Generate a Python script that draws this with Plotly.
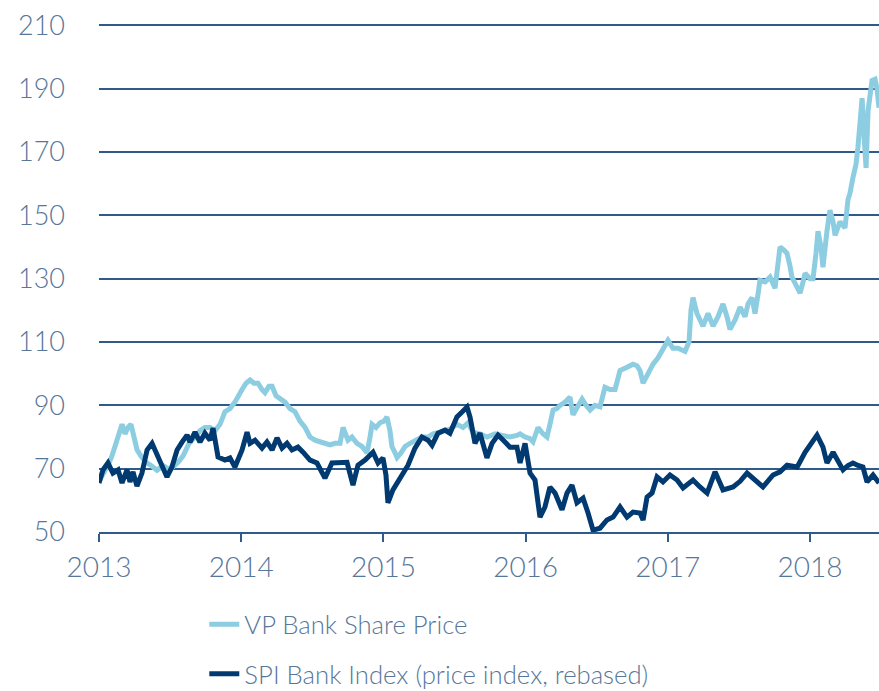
import plotly.graph_objects as go

# VP Bank share price (decimal year, value)
vp_t = [2013.000, 2013.028, 2013.063, 2013.091, 2013.113, 2013.141, 2013.162, 2013.183, 2013.204, 2013.225,
        2013.246, 2013.267, 2013.295, 2013.331, 2013.366, 2013.408, 2013.450, 2013.485, 2013.520, 2013.556,
        2013.591, 2013.633, 2013.675, 2013.710, 2013.745, 2013.781, 2013.816, 2013.851, 2013.886, 2013.921,
        2013.956, 2013.977, 2014.006, 2014.034, 2014.062, 2014.090, 2014.118, 2014.146, 2014.167, 2014.195,
        2014.217, 2014.245, 2014.273, 2014.308, 2014.343, 2014.378, 2014.413, 2014.449, 2014.484, 2014.519,
        2014.554, 2014.589, 2014.624, 2014.660, 2014.695, 2014.716, 2014.737, 2014.751, 2014.779, 2014.814,
        2014.849, 2014.885, 2014.906, 2014.920, 2014.948, 2014.976, 2015.004, 2015.025, 2015.046, 2015.060,
        2015.082, 2015.096, 2015.124, 2015.152, 2015.187, 2015.236, 2015.271, 2015.314, 2015.349, 2015.398,
        2015.433, 2015.468, 2015.517, 2015.560, 2015.595, 2015.630, 2015.679, 2015.728, 2015.785, 2015.841,
        2015.890, 2015.939, 2015.961, 2015.996, 2016.031, 2016.052, 2016.087, 2016.122, 2016.150, 2016.171,
        2016.193, 2016.221, 2016.242, 2016.277, 2016.312, 2016.333, 2016.368, 2016.397, 2016.425, 2016.453,
        2016.488, 2016.523, 2016.558, 2016.593, 2016.629, 2016.664, 2016.713, 2016.755, 2016.783, 2016.804,
        2016.826, 2016.861, 2016.896, 2016.931, 2016.966, 2017.001, 2017.036, 2017.072, 2017.121, 2017.149,
        2017.163, 2017.177, 2017.205, 2017.226, 2017.247, 2017.283, 2017.318, 2017.353, 2017.388, 2017.416,
        2017.437, 2017.473, 2017.508, 2017.543, 2017.564, 2017.592, 2017.613, 2017.634, 2017.648, 2017.684,
        2017.719, 2017.754, 2017.775, 2017.789, 2017.817, 2017.838, 2017.859, 2017.873, 2017.901, 2017.930,
        2017.951, 2017.965, 2018.000, 2018.021, 2018.042, 2018.056, 2018.077, 2018.091, 2018.119, 2018.140,
        2018.162, 2018.176, 2018.211, 2018.246, 2018.267, 2018.281, 2018.302, 2018.323, 2018.337, 2018.352,
        2018.366, 2018.380, 2018.394, 2018.408, 2018.422, 2018.436, 2018.457, 2018.471, 2018.485]
vp_v = [66, 68, 71, 74, 77, 82, 84, 81, 83, 84,
        80, 76, 74, 72, 71, 69.5, 71, 70, 70.5, 72,
        74, 78, 80, 82, 83, 83, 82, 84, 88, 89,
        91, 93, 95, 97, 98, 97, 97, 95, 94, 96,
        96, 93, 92, 91, 89, 88, 85, 83, 80, 79,
        78.5, 78, 77.5, 78, 78, 83, 81, 79, 80, 78,
        77, 75, 80, 84, 83, 84.5, 85, 86.3, 82, 77,
        75, 73.5, 75, 77, 78, 79, 80, 80, 81, 81.5,
        82, 82.5, 84, 83, 84.5, 81.5, 81, 80, 81, 80.5,
        80, 80.5, 81, 80, 79.5, 78.5, 83, 81, 80, 84,
        88.5, 89, 90, 91, 92.6, 87, 90, 92, 90, 88.5,
        90, 89.5, 95.7, 95, 95, 101, 102, 103, 102.5, 101,
        97, 100, 103, 105, 108, 110.5, 108, 108, 107, 110,
        120, 124, 119, 117, 115, 119, 115, 118, 122, 118,
        114, 117, 121, 118, 122, 124, 119, 125, 129.5, 129,
        130.5, 127, 134, 140, 139, 138, 134, 130.5, 128, 125.4,
        129, 131.7, 130, 130, 138, 145, 140, 133.6, 145, 151.6,
        148, 143.7, 148, 146, 155, 157, 162, 166, 171.5, 180,
        187, 175, 165, 183, 188, 192.6, 193, 190, 184]

# SPI Bank Index (price index, rebased)
spi_t = [2013.000, 2013.014, 2013.028, 2013.063, 2013.098, 2013.134, 2013.162, 2013.197, 2013.218, 2013.239,
         2013.267, 2013.302, 2013.338, 2013.373, 2013.408, 2013.443, 2013.478, 2013.513, 2013.549, 2013.584,
         2013.619, 2013.640, 2013.675, 2013.710, 2013.745, 2013.781, 2013.802, 2013.837, 2013.886, 2013.921,
         2013.956, 2014.006, 2014.041, 2014.062, 2014.097, 2014.146, 2014.181, 2014.217, 2014.252, 2014.287,
         2014.322, 2014.357, 2014.399, 2014.435, 2014.484, 2014.533, 2014.589, 2014.638, 2014.695, 2014.744,
         2014.786, 2014.821, 2014.871, 2014.927, 2014.962, 2014.997, 2015.018, 2015.032, 2015.067, 2015.103,
         2015.138, 2015.173, 2015.222, 2015.271, 2015.314, 2015.342, 2015.384, 2015.433, 2015.468, 2015.517,
         2015.553, 2015.588, 2015.609, 2015.644, 2015.679, 2015.728, 2015.764, 2015.806, 2015.855, 2015.890,
         2015.939, 2015.961, 2015.996, 2016.031, 2016.066, 2016.101, 2016.136, 2016.171, 2016.207, 2016.256,
         2016.291, 2016.326, 2016.361, 2016.404, 2016.439, 2016.474, 2016.523, 2016.572, 2016.615, 2016.664,
         2016.713, 2016.755, 2016.804, 2016.826, 2016.854, 2016.889, 2016.924, 2016.966, 2017.015, 2017.065,
         2017.107, 2017.156, 2017.177, 2017.226, 2017.276, 2017.332, 2017.388, 2017.459, 2017.508, 2017.557,
         2017.613, 2017.669, 2017.740, 2017.789, 2017.838, 2017.909, 2017.965, 2018.014, 2018.049, 2018.091,
         2018.119, 2018.162, 2018.197, 2018.232, 2018.267, 2018.302, 2018.337, 2018.372, 2018.401, 2018.443,
         2018.485]
spi_v = [65.5, 68, 69.6, 71.8, 68.6, 69.6, 65.5, 69.6, 65.8, 69,
         64.5, 68.6, 75.9, 78, 74.3, 70.5, 67.4, 70.5, 75.9, 78.4,
         80.6, 78.4, 81.5, 78.4, 81.2, 79, 82.8, 73.7, 72.7, 73.4,
         70.5, 75.9, 81.5, 78, 79, 76.5, 78.4, 75.9, 79.7, 76.5,
         78, 75.9, 76.8, 75.2, 72.7, 71.8, 67, 71.8, 72, 72,
         64.8, 71.1, 72.7, 75.2, 71.8, 73.4, 68, 59.2, 63.3, 65.8,
         68.6, 71.1, 76.5, 80, 79, 77.4, 81.2, 82.2, 81.2, 86.3,
         87.9, 89.5, 86.3, 78, 81.2, 73.4, 78, 80.6, 78.4, 76.8,
         76.8, 71.8, 78, 68.6, 66.4, 54.7, 57.9, 64.2, 62.3, 57,
         62.3, 64.8, 59.2, 60.7, 56, 50.6, 51.2, 53.8, 54.7, 57.9,
         54.7, 56.3, 56, 53.8, 61, 62.3, 67.4, 65.8, 68, 66.4,
         63.9, 65.8, 66.4, 64.2, 62.3, 69, 63.3, 64.2, 66, 68.6,
         66.4, 64.2, 68, 69, 71.1, 70.5, 75.2, 78, 80.6, 76.8,
         71.8, 75.2, 72, 69.6, 71, 71.8, 71, 70.5, 65.8, 68,
         65.5]

year_ticks = [2013, 2014, 2015, 2016, 2017, 2018]
value_ticks = [50, 70, 90, 110, 130, 150, 170, 190, 210]

LIGHT = "#8dcde1"
DARK = "#003a70"
GRID = "#2f5a8c"
TEXT = "#56779a"
FONT = "Lato"

fig = go.Figure()
fig.add_trace(go.Scatter(x=vp_t, y=vp_v, mode="lines", name="VP Bank Share Price",
                         legendgroup="a", line=dict(color=LIGHT, width=5)))
fig.add_trace(go.Scatter(x=spi_t, y=spi_v, mode="lines", name="SPI Bank Index (price index, rebased)",
                         legendgroup="b", line=dict(color=DARK, width=5)))

fig.update_layout(
    width=879, height=691,
    margin=dict(l=99, r=0, t=19, b=159, autoexpand=False),
    paper_bgcolor="white", plot_bgcolor="white",
    font=dict(family=FONT, color=TEXT, size=26, weight=300),
    showlegend=True,
    legend=dict(orientation="v", x=0.135, xref="paper", y=0.1302, yref="container",
                xanchor="left", yanchor="top",
                font=dict(size=25.7, color=TEXT, family=FONT, weight=300), tracegroupgap=13,
                bgcolor="rgba(0,0,0,0)"),
    xaxis=dict(range=[2013, 2018.485], tickvals=year_ticks, ticktext=[str(y) for y in year_ticks],
               showgrid=False, zeroline=False, showline=True, linecolor=GRID, linewidth=2,
               ticks="outside", ticklen=8, tickwidth=2, tickcolor=GRID, automargin=False,
               tickfont=dict(size=28, color=TEXT, family=FONT, weight=300), ticklabelstandoff=1),
    yaxis=dict(range=[50, 212], tickvals=value_ticks, showgrid=True, gridcolor=GRID, gridwidth=2,
               zeroline=False, showline=False, ticks="", automargin=False,
               tickfont=dict(size=27, color=TEXT, family=FONT, weight=300), ticklabelstandoff=33),
)

fig.write_html("out.html", config={"displayModeBar": False},
               post_script="document.body.style.margin='0';")
